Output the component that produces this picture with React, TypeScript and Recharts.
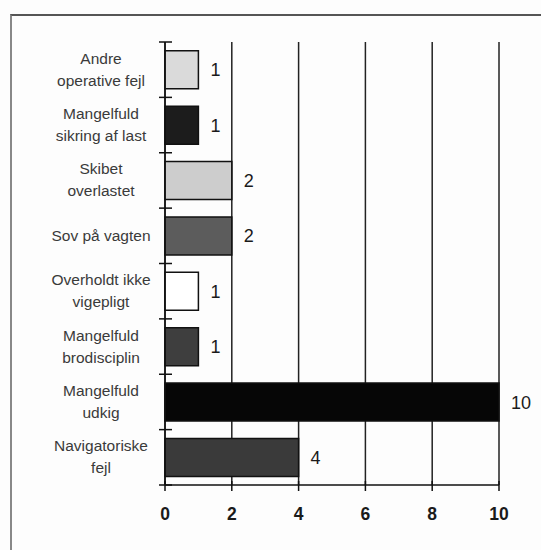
import { BarChart, Bar, XAxis, YAxis, CartesianGrid, LabelList, Cell } from 'recharts'

// Årsager til ulykker (antal), read top to bottom
const CATEGORIES = [
  'Andre\noperative fejl',
  'Mangelfuld\nsikring af last',
  'Skibet\noverlastet',
  'Sov på vagten',
  'Overholdt ikke\nvigepligt',
  'Mangelfuld\nbrodisciplin',
  'Mangelfuld\nudkig',
  'Navigatoriske\nfejl',
]
const COUNTS = [1, 1, 2, 2, 1, 1, 10, 4]
const X_TICKS = [0, 2, 4, 6, 8, 10]

const FILLS = ['#dadada', '#1c1c1c', '#cdcdcd', '#5c5c5c', '#ffffff', '#3e3e3e', '#060606', '#3a3a3a']
const FONT = '"Liberation Sans", Arial, Helvetica, sans-serif'

const data = CATEGORIES.map((name, i) => ({ name, count: COUNTS[i] }))

function CategoryTick(props: any) {
  const { x, y, payload, height, visibleTicksCount, index } = props
  const lines = String(payload.value).split('\n')
  const band = height / visibleTicksCount
  const top = y - band / 2
  const bottom = y + band / 2
  const firstBase = lines.length === 1 ? y + 5 : y - 6
  return (
    <g>
      <line x1={x - 6} x2={x + 7} y1={top} y2={top} stroke="#111" strokeWidth={1.5} />
      {index === visibleTicksCount - 1 && (
        <line x1={x - 6} x2={x + 7} y1={bottom} y2={bottom} stroke="#111" strokeWidth={1.5} />
      )}
      <text x={x - 64} y={firstBase} textAnchor="middle" fontFamily={FONT} fontSize={15.5} fill="#3a3a3a">
        {lines.map((l, i) => (
          <tspan key={i} x={x - 64} dy={i === 0 ? 0 : 22}>{l}</tspan>
        ))}
      </text>
    </g>
  )
}

function ValueTick(props: any) {
  const { x, y, payload } = props
  return (
    <g>
      <line x1={x} x2={x} y1={y - 4} y2={y + 6} stroke="#111" strokeWidth={1.5} />
      <text x={x} y={y + 35} textAnchor="middle" fontFamily={FONT} fontSize={17.5} fontWeight="bold" fill="#1a1a1a">
        {payload.value}
      </text>
    </g>
  )
}

export default function App() {
  return (
    <div style={{ position: 'absolute', left: 0, top: 0, width: 541, height: 550, background: '#fdfdfd' }}>
      <div style={{ position: 'absolute', left: 10, top: 14, right: 0, bottom: 0, borderTop: '2px solid #555', borderLeft: '2px solid #888' }} />
      <BarChart
        width={541}
        height={550}
        data={data}
        layout="vertical"
        margin={{ top: 42, right: 42, bottom: 0, left: 0 }}
        barCategoryGap="16%"
        style={{ position: 'absolute', left: 0, top: 0 }}
      >
        <CartesianGrid horizontal={false} vertical stroke="#222" strokeWidth={1.5} />
        <XAxis
          type="number"
          dataKey="count"
          domain={[0, 10]}
          ticks={X_TICKS}
          height={65}
          tickSize={0}
          tickMargin={0}
          tickLine={false}
          axisLine={{ stroke: '#111', strokeWidth: 1.5 }}
          tick={<ValueTick />}
          interval={0}
        />
        <YAxis
          type="category"
          dataKey="name"
          width={165}
          tickSize={0}
          tickMargin={0}
          tickLine={false}
          axisLine={{ stroke: '#111', strokeWidth: 1.5 }}
          tick={<CategoryTick />}
          interval={0}
        />
        <Bar dataKey="count" stroke="#111" strokeWidth={1.5} isAnimationActive={false}>
          {data.map((d, i) => (
            <Cell key={d.name} fill={FILLS[i]} />
          ))}
          <LabelList dataKey="count" position="right" offset={12} fill="#1a1a1a" fontSize={18} fontFamily={FONT} />
        </Bar>
      </BarChart>
    </div>
  )
}
